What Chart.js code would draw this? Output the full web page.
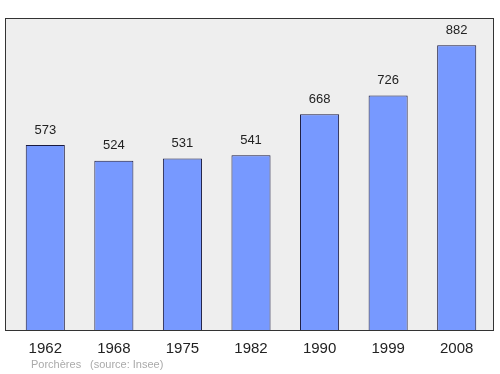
<!DOCTYPE html>
<html>
<head>
<meta charset="utf-8">
<script src="https://cdn.jsdelivr.net/npm/chart.js@4.4.0/dist/chart.umd.min.js"></script>
<style>
  html, body { margin: 0; padding: 0; background: #fff; }
  #wrap { width: 500px; height: 374px; }
</style>
</head>
<body>
<div id="wrap"><canvas id="pop-chart" width="500" height="374"></canvas></div>
<script>
// Population of Porchères by census year
const years = ['1962', '1968', '1975', '1982', '1990', '1999', '2008'];
const population = [573, 524, 531, 541, 668, 726, 882];
const yMax = 966;

const FONT = '"Liberation Sans", Arial, sans-serif';

// Grey frame behind the bars, value labels on top, source line below
const framePlugin = {
    id: 'frame',
    beforeDraw(chart) {
        const { ctx, chartArea: a } = chart;
        ctx.save();
        ctx.fillStyle = '#eeeeee';
        ctx.strokeStyle = '#333333';
        ctx.lineWidth = 1;
        ctx.fillRect(a.left - 6, a.top, a.right - a.left + 9, a.bottom - a.top);
        ctx.strokeRect(a.left - 5.5, a.top + 0.5, a.right - a.left + 8, a.bottom - a.top);
        ctx.restore();
    },
    afterDatasetsDraw(chart) {
        const { ctx } = chart;
        const meta = chart.getDatasetMeta(0);
        ctx.save();
        ctx.fillStyle = '#222222';
        ctx.font = '13px ' + FONT;
        ctx.textAlign = 'center';
        ctx.textBaseline = 'middle';
        meta.data.forEach((bar, i) => {
            ctx.fillText(String(population[i]), bar.x, bar.y - 15);
        });
        ctx.fillStyle = '#aaaaaa';
        ctx.font = '11px ' + FONT;
        ctx.textAlign = 'left';
        ctx.fillText('Porchères', 31, 365);
        ctx.fillText('(source: Insee)', 90, 365);
        ctx.restore();
    }
};

new Chart(document.getElementById('pop-chart').getContext('2d'), {
    type: 'bar',
    data: {
        labels: years,
        datasets: [{
            data: population,
            backgroundColor: '#7799ff',
            borderColor: '#1a1a40',
            borderWidth: 1,
            barPercentage: 0.57,
            categoryPercentage: 1.0
        }]
    },
    options: {
        responsive: false,
        animation: false,
        layout: { padding: { left: 11, right: 9, top: 18, bottom: 14 } },
        plugins: {
            legend: { display: false },
            tooltip: { enabled: false }
        },
        scales: {
            x: {
                grid: { display: false },
                border: { display: false },
                ticks: { color: '#222222', font: { family: FONT, size: 15 }, padding: 2 }
            },
            y: {
                display: false,
                min: 0,
                max: yMax
            }
        }
    },
    plugins: [framePlugin]
});
</script>
</body>
</html>
